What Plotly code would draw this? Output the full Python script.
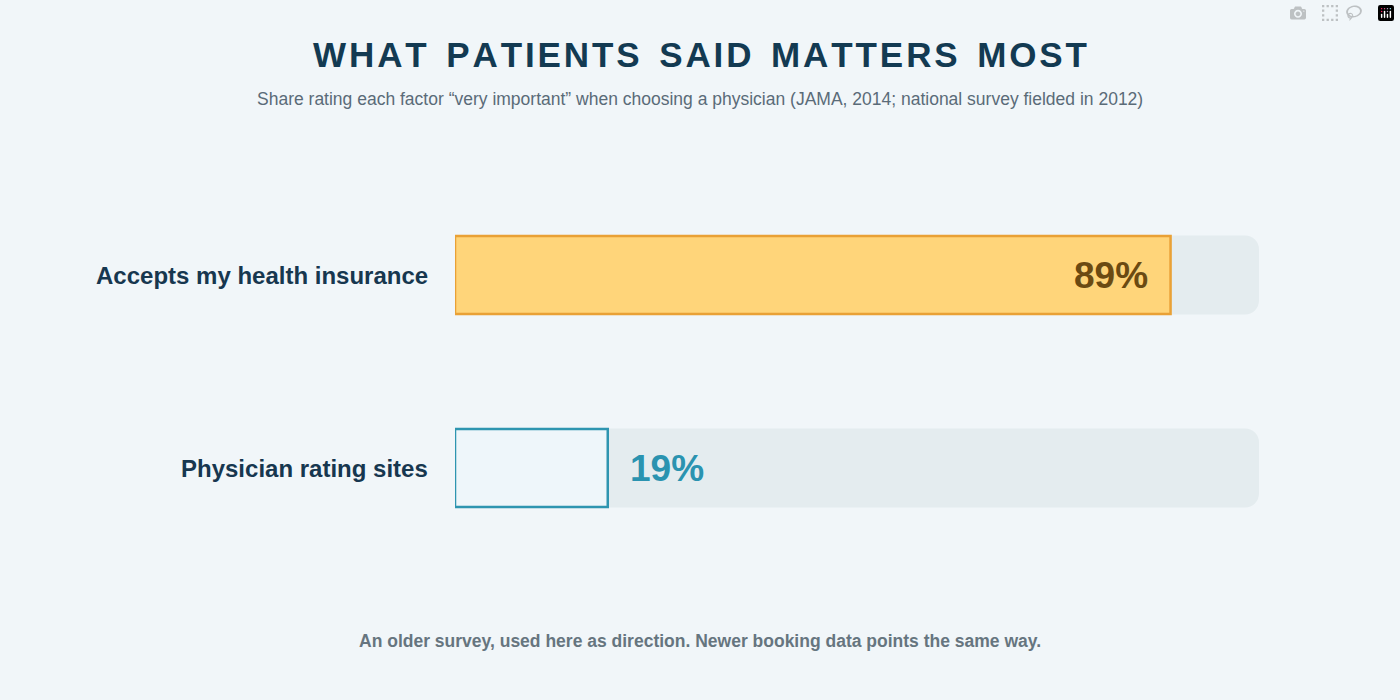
import plotly.graph_objects as go

factors = ["Accepts my health insurance", "Physician rating sites"]
shares = [89, 19]
value_labels = ["89%", "19%"]
track = [100, 100]

fill_colors = ["#FFD57A", "#EEF6FA"]
line_colors = ["#E9A136", "#2E95B0"]
text_colors = ["#6B4A12", "#2A93B0"]
ypos = [0, 1]

fig = go.Figure()
# grey background track
fig.add_trace(go.Bar(x=track, y=ypos, orientation="h", width=0.41,
                     marker=dict(color="#E4ECEF", cornerradius=14, line=dict(width=0)),
                     hoverinfo="skip", showlegend=False))
fig.add_trace(go.Bar(x=shares, y=ypos, orientation="h", width=0.405,
                     marker=dict(color=fill_colors, cornerradius=14,
                                 line=dict(color=line_colors, width=2.5)),
                     showlegend=False))

font = "Liberation Sans, Arial, sans-serif"
for i, name in enumerate(factors):
    fig.add_annotation(x=0.307, xref="paper", y=ypos[i], yref="y", text="<b>%s</b>" % name,
                       showarrow=False, xanchor="right", font=dict(size=24, color="#17374F", family=font))
    if shares[i] > 50:
        fig.add_annotation(x=shares[i] - 2.5, y=ypos[i], text="<b>%s</b>" % value_labels[i],
                           showarrow=False, xanchor="right", font=dict(size=37, color=text_colors[i], family=font))
    else:
        fig.add_annotation(x=shares[i] + 2.5, y=ypos[i], text="<b>%s</b>" % value_labels[i],
                           showarrow=False, xanchor="left", font=dict(size=37, color=text_colors[i], family=font))

fig.add_annotation(x=0.5, xref="paper", y=1 - 55 / 700, yref="paper", showarrow=False, yanchor="middle",
                   text="<b>W\u200aH\u200aA\u200aT  P\u200aA\u200aT\u200aI\u200aE\u200aN\u200aT\u200aS  S\u200aA\u200aI\u200aD  M\u200aA\u200aT\u200aT\u200aE\u200aR\u200aS  M\u200aO\u200aS\u200aT</b>",
                   font=dict(size=35, color="#133A52", family=font))
fig.add_annotation(x=0.5, xref="paper", y=1 - 99 / 700, yref="paper", showarrow=False, yanchor="middle",
                   text="Share rating each factor \u201cvery important\u201d when choosing a physician (JAMA, 2014; national survey fielded in 2012)",
                   font=dict(size=17.5, color="#5A6B78", family=font))
fig.add_annotation(x=0.5, xref="paper", y=1 - 641 / 700, yref="paper", showarrow=False, yanchor="middle",
                   text="<b>An older survey, used here as direction. Newer booking data points the same way.</b>",
                   font=dict(size=17.5, color="#66757F", family=font))

fig.update_layout(
    width=1400, height=700, barmode="overlay",
    margin=dict(l=0, r=0, t=0, b=0),
    paper_bgcolor="#F1F6F9", plot_bgcolor="rgba(0,0,0,0)",
    xaxis=dict(domain=[455 / 1400, 1259 / 1400], range=[0, 100], visible=False, fixedrange=True),
    yaxis=dict(domain=[0, 1], range=[1 + 232 / 193, -275 / 193], visible=False, fixedrange=True),
    font=dict(family=font),
)
fig.write_html("out.html", post_script="document.body.style.margin='0';document.body.style.background='#F1F6F9';")
